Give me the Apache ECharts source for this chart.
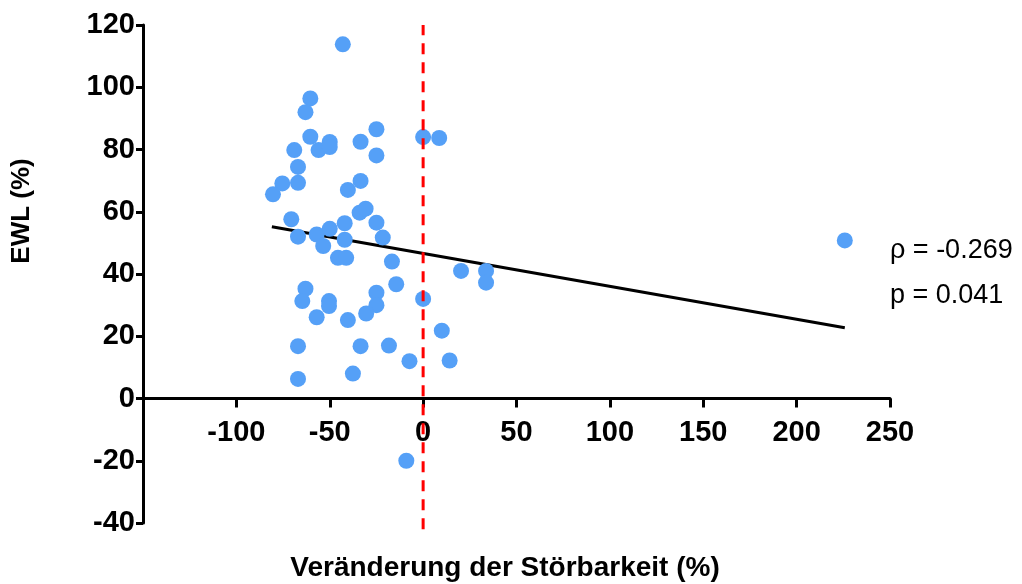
<!DOCTYPE html>
<html>
<head>
<meta charset="utf-8">
<script src="https://cdn.jsdelivr.net/npm/echarts@6/dist/echarts.min.js"></script>
<style>html,body{margin:0;padding:0;background:#fff}#c{width:1022px;height:584px}</style>
</head>
<body>
<div id="c"></div>
<script>
// Data
var changeX = [-43, -60.4, -63, -60.4, -69, -56, -50, -50, -25, -25, -33.5, -67, -75.4, -67, -40.3, -33.5, -80.4, 0, 8.6,
  -70.6, -67, -57, -50, -53.5, -42, -42, -45.6, -41.2, -34, -30.8, -25, -21.6, -16.7, -14.4, -25, -25, -30.5, -40.3, -57,
  -50.4, -50.4, -63, -64.7, -67, -67, -37.6, -33.5, -18.3, -7.3, 0, 10, 14.2, 20.3, 33.7, 33.7, -9, 225.8];
var ewl = [113.8, 96.4, 92, 84.1, 79.8, 79.8, 82.4, 80.8, 86.5, 78.1, 82.5, 74.4, 69.1, 69.3, 67, 69.9, 65.6, 84, 83.7,
  57.6, 52, 52.7, 54.5, 49, 56.3, 51, 45.2, 45.2, 59.7, 61, 56.5, 51.7, 44, 36.7, 34, 30, 27.3, 25.2, 26.1,
  31.3, 29.7, 35.3, 31.3, 16.8, 6.3, 8, 16.8, 17, 12, 32, 21.8, 12.2, 41, 41, 37.2, -20, 50.8];
var fitX = [-81, 225.8];
var fitY = [55.2, 22.7];
var refLineX = [0, 0];
var refLineY = [-42, 120];
var xTicks = [-100, -50, 0, 50, 100, 150, 200, 250];
var yTicks = [-40, -20, 0, 20, 40, 60, 80, 100, 120];
var xTitle = 'Veränderung der Störbarkeit (%)';
var yTitle = 'EWL (%)';
var rhoText = 'ρ = -0.269';
var pText = 'p = 0.041';

var pts = changeX.map(function (x, i) { return [x, ewl[i]]; });
var fit = fitX.map(function (x, i) { return [x, fitY[i]]; });
var refLine = refLineX.map(function (x, i) { return [x, refLineY[i]]; });
var FONT = '"Liberation Sans", Arial, Helvetica, sans-serif';

var GRID_TOP = 25, GRID_BOTTOM = 61, H = 584;
var plotH = H - GRID_TOP - GRID_BOTTOM;
// distance from grid bottom (y=-40) up to y=0
var zeroOffset = plotH * (0 - (-40)) / (120 - (-40));

var chart = echarts.init(document.getElementById('c'), null, {renderer: 'canvas'});
chart.setOption({
  animation: false,
  backgroundColor: '#fff',
  grid: {left: 143, right: 132, top: GRID_TOP, bottom: GRID_BOTTOM, containLabel: false},
  xAxis: {
    type: 'value', min: -150, max: 250, interval: 50,
    position: 'bottom', offset: -zeroOffset,
    splitLine: {show: false},
    axisLine: {onZero: false, lineStyle: {color: '#000', width: 3}},
    axisTick: {show: true, inside: false, length: 9, customValues: xTicks, lineStyle: {color: '#000', width: 3}},
    axisLabel: {customValues: xTicks, margin: 20, color: '#000', fontSize: 29, fontWeight: 'bold', fontFamily: FONT}
  },
  yAxis: {
    type: 'value', min: -40, max: 120, interval: 20,
    splitLine: {show: false},
    axisLine: {show: true, onZero: false, lineStyle: {color: '#000', width: 3}},
    axisTick: {show: true, inside: false, length: 7, customValues: yTicks, lineStyle: {color: '#000', width: 3}},
    axisLabel: {customValues: yTicks, margin: 8, color: '#000', fontSize: 29, fontWeight: 'bold', fontFamily: FONT}
  },
  series: [
    {
      type: 'line', data: fit, symbol: 'none', silent: true, z: 3,
      lineStyle: {color: '#000', width: 3}
    },
    {
      type: 'scatter', data: pts, symbol: 'circle', symbolSize: 16, z: 4,
      itemStyle: {color: '#55A0F7', opacity: 1}
    },
    {
      type: 'line', data: refLine, symbol: 'none', silent: true, z: 6, clip: false,
      lineStyle: {color: '#FF0000', width: 3, type: [11, 8]}
    }
  ],
  graphic: [
    {type: 'text', x: 505, y: 568, style: {text: xTitle, fill: '#000', font: 'bold 28px ' + FONT, textAlign: 'center', textVerticalAlign: 'middle'}},
    {type: 'text', x: 22, y: 211, rotation: Math.PI / 2, style: {text: yTitle, fill: '#000', font: 'bold 26px ' + FONT, textAlign: 'center', textVerticalAlign: 'middle'}},
    {type: 'text', x: 890, y: 251, style: {text: rhoText, fill: '#000', font: '27px ' + FONT, textAlign: 'left', textVerticalAlign: 'middle'}},
    {type: 'text', x: 890, y: 296, style: {text: pText, fill: '#000', font: '27px ' + FONT, textAlign: 'left', textVerticalAlign: 'middle'}}
  ]
});
</script>
</body>
</html>
